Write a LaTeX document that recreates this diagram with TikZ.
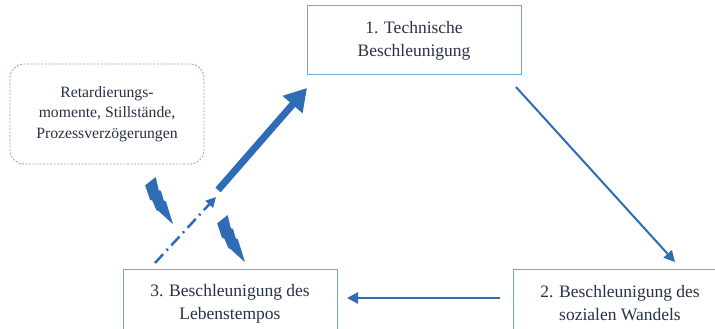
\documentclass[tikz,border=0pt]{standalone}
\usepackage{fontspec}
\setmainfont{Liberation Serif}
\usetikzlibrary{arrows.meta}
\definecolor{boxline}{RGB}{120,165,215}
\definecolor{arrowblue}{RGB}{46,108,182}
\definecolor{txt}{RGB}{40,50,70}
\tikzset{
  stage/.style={draw=boxline, line width=1pt, minimum width=214pt, minimum height=69pt,
    align=center, font=\fontsize{17.5}{23}\selectfont, text=txt, inner sep=0pt},
  notebox/.style={draw=boxline, line width=0.8pt, dash pattern=on 2pt off 1.5pt,
    rounded corners=14pt, minimum width=194pt, minimum height=100pt,
    align=center, font=\fontsize{15.7}{20.5}\selectfont, text=txt, inner sep=0pt},
  flow/.style={draw=arrowblue, line width=2.3pt, -{Triangle[length=11pt,width=11pt]}},
  bolt/.pic={
    \filldraw[arrowblue, line width=0.5pt, line join=round]
      (0,0) -- (10,-8) -- (13,5) -- (15.2,5.6) -- (18,15) -- (20.2,16.2)
      -- (27,38) -- (13.2,25.2) -- (11.2,24.6) -- (7,14.8) -- (4.8,14.2) -- cycle;
  }
}
\begin{document}
\begin{tikzpicture}[x=1pt,y=-1pt]
\useasboundingbox (0,0) rectangle (715,329);
\fill[white] (0,0) rectangle (715,329);
\begin{scope}
\clip (0,0) rectangle (715,329);
\node[stage] (box1) at (414,40.5) {1. Technische\\Beschleunigung};
\node[stage] (box2) at (620,303.5) {2. Beschleunigung des\\sozialen Wandels};
\node[stage] (box3) at (230,303.5) {3. Beschleunigung des\\Lebenstempos};
\end{scope}
\node[notebox] (note) at (107,114) {Retardierungs-\\momente, Stillstände,\\Prozessverzögerungen};

\coordinate (a1) at (516,87);
\coordinate (a2) at (675,262);
\coordinate (h1) at (500,298);
\coordinate (h2) at (347,298);
\coordinate (d1) at (155,263);
\coordinate (d2) at (216,197);
\coordinate (t1) at (218,190);
\coordinate (t2) at (307,88);

\draw[flow, line width=2pt] (a1) -- (a2);
\draw[flow] (h1) -- (h2);
\draw[arrowblue, line width=2.5pt, dash pattern=on 12pt off 5pt on 2pt off 5pt,
  -{Triangle[length=10pt,width=10pt]}] (d1) -- (d2);
\draw[arrowblue, line width=7pt, -{Triangle[length=22pt,width=25pt]}] (t1) -- (t2);

\pic at (145.5,185.5) {bolt};
\pic at (217.5,223.5) {bolt};
\end{tikzpicture}
\end{document}
